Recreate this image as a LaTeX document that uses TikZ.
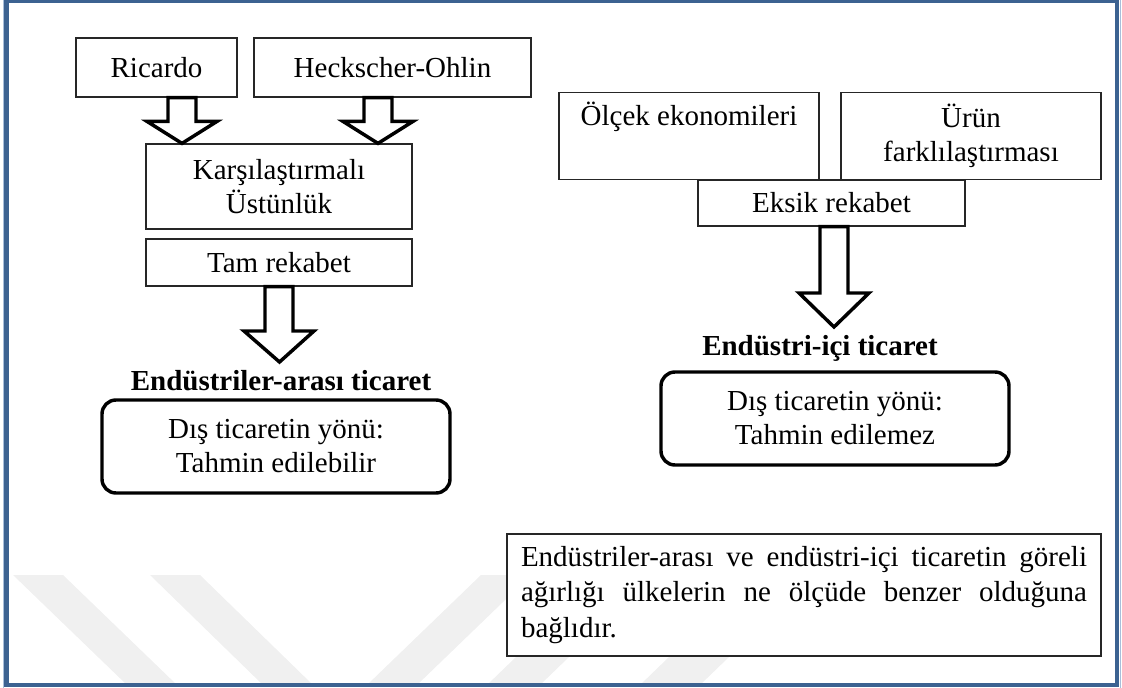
\documentclass[tikz,border=0pt]{standalone}
\usepackage{fontspec}
\setmainfont{Liberation Serif}
\usetikzlibrary{calc}
\definecolor{frameblue}{HTML}{3C6291}
\definecolor{framelight}{HTML}{A8BEDA}

\newcommand{\fs}{\fontsize{21.75}{25.5}\selectfont}
% hollow block arrow: [head length] {from point} {tip point}
\newcommand{\fatarrow}[3][16.5pt]{%
  \draw[fatline] let \p1=#2, \p2=#3 in
    (\x1-10.5pt,\y1) -- (\x1+10.5pt,\y1) -- (\x1+10.5pt,\y2+#1)
    -- (\x1+26.25pt,\y2+#1) -- (\x2,\y2) -- (\x1-26.25pt,\y2+#1)
    -- (\x1-10.5pt,\y2+#1) -- cycle;}

\tikzset{
  box/.style={draw=black!85, line width=0.9pt, fill=white, font=\fs, align=center, inner sep=0pt},
  result/.style={draw=black, line width=2.6pt, rounded corners=10.5pt, fill=white, font=\fs,
    align=center, minimum width=261pt, minimum height=69.75pt},
  heading/.style={font=\fs\bfseries, anchor=base, inner sep=0pt},
  fatline/.style={draw=black, line width=2.6pt, fill=white},
  stripe/.style={fill=gray!12},
}

\begin{document}
\begin{tikzpicture}[x=0.75pt,y=-0.75pt]
    \useasboundingbox (0,0) rectangle (1122,688);

    % Watermark stripes
    \fill[stripe] (13,575) -- (63,575) -- (177,685) -- (127,685) -- cycle;
    \fill[stripe] (150,575) -- (200,575) -- (313,685) -- (263,685) -- cycle;
    \fill[stripe] (481,575) -- (531,575) -- (417,685) -- (367,685) -- cycle;
    \fill[stripe] (601,575) -- (654,575) -- (540,685) -- (487,685) -- cycle;
    \fill[stripe] (754,575) -- (814,575) -- (700,685) -- (640,685) -- cycle;

    % Frame
    \draw[frameblue, line width=3.4pt] (6.7,1) rectangle (1117,685);
    \draw[framelight, line width=1.1pt] (3.5,0) -- (3.5,688);
    \draw[framelight, line width=1.1pt] (1120.5,0) -- (1120.5,688);

    % Inter-industry side
    \node[box, minimum width=120.75pt, minimum height=44.25pt] (ricardo) at (156.5,67.5) {Ricardo};
    \node[box, minimum width=207.75pt, minimum height=44.25pt] (hecksher) at (392.5,67.5) {Heckscher-Ohlin};
    \node[box, minimum width=199.5pt, minimum height=63.75pt] (karsi) at (279,186.5) {Karşılaştırmalı\\Üstünlük};
    \node[box, minimum width=199.5pt, minimum height=35.25pt] (tam) at (279,262.5) {Tam rekabet};
    \node[heading] (interlbl) at (281,390) {Endüstriler-arası ticaret};
    \node[result] (predl) at (276,446.5) {Dış ticaretin yönü:\\Tahmin edilebilir};

    \coordinate (ax1) at (182,0);
    \coordinate (ax2) at (378,0);
    \coordinate (tipl) at (279.5,362);
    \fatarrow{(ax1 |- ricardo.south)}{(ax1 |- karsi.north)}
    \fatarrow{(ax2 |- hecksher.south)}{(ax2 |- karsi.north)}
    \fatarrow[23.25pt]{(tam.south)}{(tipl)}

    % Intra-industry side
    \node[box, minimum width=195pt, minimum height=65.25pt] (olcek) at (689,136) {Ölçek ekonomileri\\\strut};
    \node[box, minimum width=195pt, minimum height=65.25pt] (urun) at (971,136) {Ürün\\farklılaştırması};
    \node[box, minimum width=200.25pt, minimum height=34.5pt] (eksik) at (831.5,203) {Eksik rekabet};
    \node[heading] (intralbl) at (820,355) {Endüstri-içi ticaret};
    \node[result] (predr) at (835,418.5) {Dış ticaretin yönü:\\Tahmin edilemez};

    \coordinate (ax4) at (834,0);
    \coordinate (tipr) at (834,327);
    \fatarrow[25.5pt]{(ax4 |- eksik.south)}{(tipr)}

    % Note on relative weight
    \node[box, text width=424.5pt, align=justify, inner xsep=10.5pt, minimum height=91.5pt,
      font=\fontsize{21.75}{26.6}\selectfont] (note) at (804,595)
      {Endüstriler-arası ve endüstri-içi ticaretin göreli\linebreak
       ağırlığı ülkelerin ne ölçüde benzer olduğuna\linebreak
       bağlıdır.};
\end{tikzpicture}
\end{document}
